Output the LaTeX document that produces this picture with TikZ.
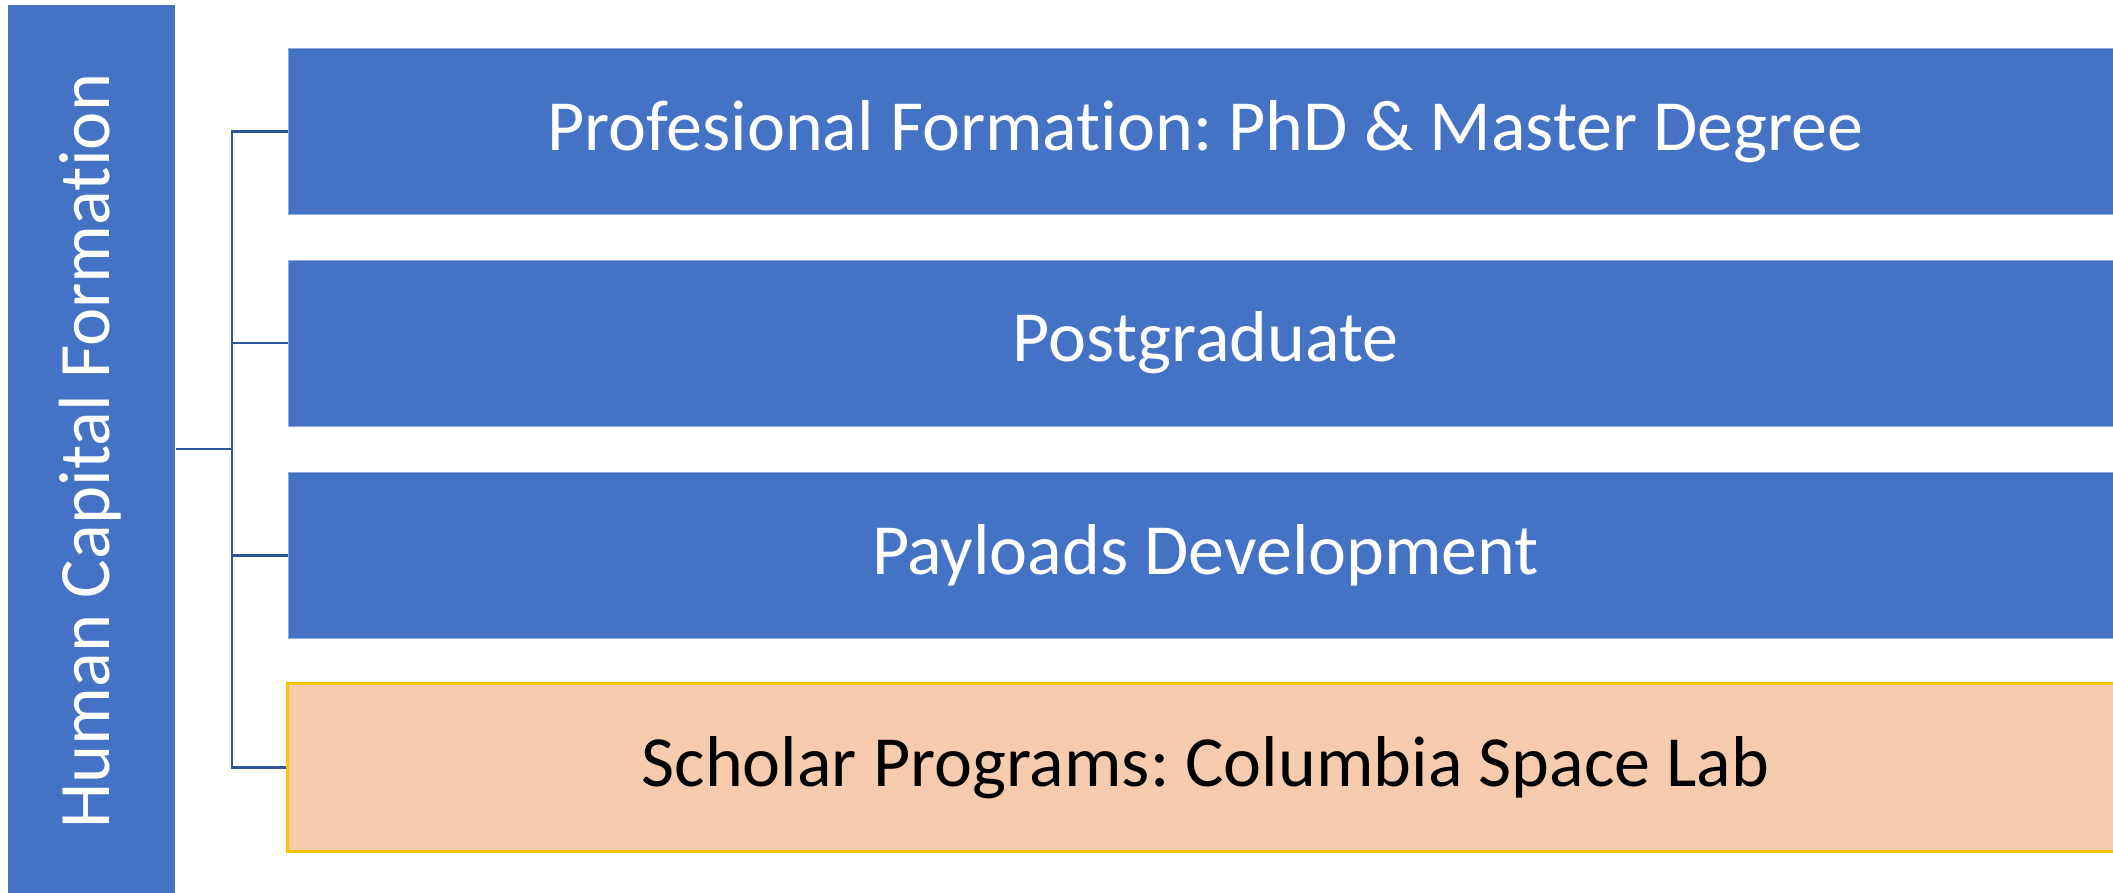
\documentclass[tikz,border=0pt]{standalone}
\usepackage{fontspec}
\setmainfont[Ligatures=CommonOff]{Carlito}
\frenchspacing
\definecolor{boxblue}{HTML}{4472C4}
\definecolor{lineblue}{HTML}{2F5597}
\definecolor{peach}{HTML}{F7CBAD}
\definecolor{gold}{HTML}{FFC000}
\begin{document}
\begin{tikzpicture}[x=1pt,y=-1pt,
  bluebox/.style={fill=boxblue,draw=boxblue!60!white,line width=0.8pt,inner sep=0pt,font=\fontsize{72}{84}\selectfont,text=white},
  orangebox/.style={fill=peach,draw=gold,line width=3pt,inner sep=0pt,font=\fontsize{72}{84}\selectfont,text=black},
  conn/.style={draw=lineblue,line width=2.2pt}]
\useasboundingbox (0,0) rectangle (2113,892);
\fill[boxblue] (8,5) rectangle (175,895);
\node[inner sep=0pt,text=white,font=\fontsize{72.5}{84}\selectfont,rotate=90,anchor=center] (root) at (90,451) {Human Capital Formation};
\coordinate (rootE) at (176,449);
\node[bluebox,minimum width=1835pt,minimum height=166pt] (b1) at (1205.5,131.5) {Profesional Formation: PhD \& Master Degree};
\node[bluebox,minimum width=1835pt,minimum height=166pt] (b2) at (1205.5,343) {Postgraduate};
\node[bluebox,minimum width=1835pt,minimum height=166pt] (b3) at (1205.5,555.5) {Payloads Development};
\node[orangebox,minimum width=1837pt,minimum height=168pt] (b4) at (1205.5,767.5) {Scholar Programs: Columbia Space Lab};
\coordinate (sp) at (232,449);
\draw[conn] (rootE) -- (sp);
\draw[conn,line join=miter] (b1.west) -- (232,131.5) -- (232,767.5) -- (b4.west);
\draw[conn] (232,343) -- (b2.west);
\draw[conn] (232,555.5) -- (b3.west);
\end{tikzpicture}
\end{document}
